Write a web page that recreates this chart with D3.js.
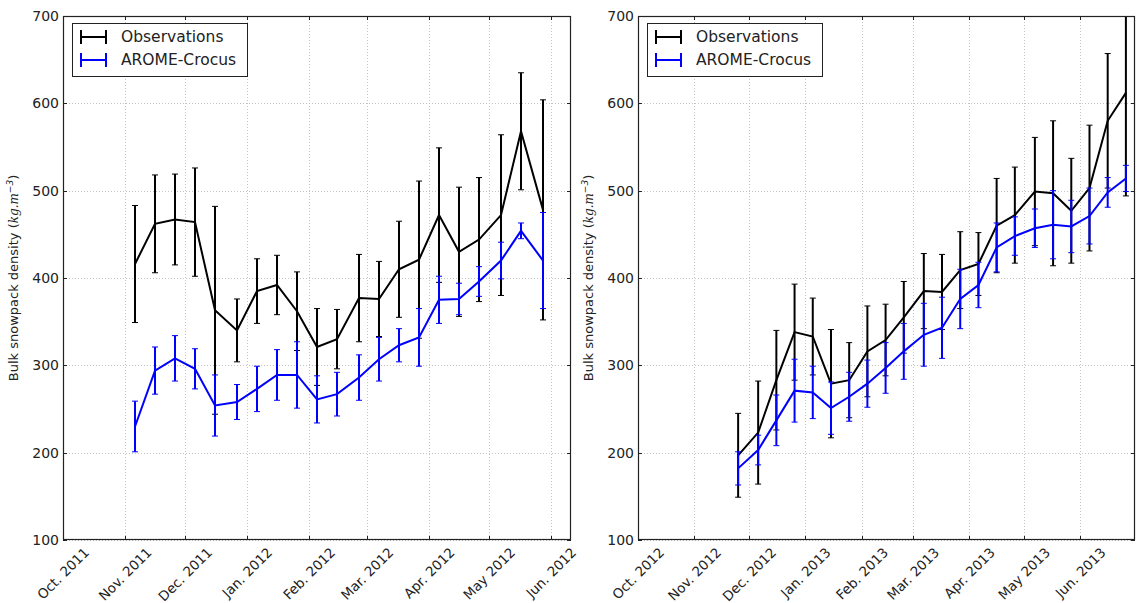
<!DOCTYPE html>
<html>
<head>
<meta charset="utf-8">
<script src="https://cdn.jsdelivr.net/npm/d3@7"></script>
<style>
  html, body { margin: 0; padding: 0; background: #fff; }
  svg { display: block; font-family: "DejaVu Sans", sans-serif; }
</style>
</head>
<body>
<svg id="chart" width="1137" height="603"></svg>
<script>
// ---------------- DATA ----------------
const seriesNames = ["Observations", "AROME-Crocus"];
const yTickValues = [100, 200, 300, 400, 500, 600, 700];

// Season 2011-2012
const dates1 = ["2011-11-06","2011-11-16","2011-11-26","2011-12-06","2011-12-16","2011-12-27",
  "2012-01-06","2012-01-16","2012-01-26","2012-02-05","2012-02-15","2012-02-26","2012-03-07",
  "2012-03-17","2012-03-27","2012-04-06","2012-04-16","2012-04-26","2012-05-07","2012-05-17","2012-05-28"];
const obs1 =      [416, 462, 467, 464, 363, 340, 385, 392, 362, 321, 330, 377, 376, 410, 421, 472, 430, 444, 472, 568, 478];
const obsErr1 =   [ 67,  56,  52,  62, 119,  36,  37,  34,  45,  44,  34,  50,  43,  55,  90,  77,  74,  71,  92,  67, 126];
const model1 =    [230, 294, 308, 296, 254, 258, 273, 289, 289, 261, 267, 286, 307, 323, 332, 375, 376, 396, 420, 454, 420];
const modelErr1 = [ 29,  27,  26,  23,  35,  20,  26,  29,  38,  27,  25,  26,  25,  19,  33,  27,  18,  17,  21,   9,  55];
const monthLabels1 = ["Oct. 2011","Nov. 2011","Dec. 2011","Jan. 2012","Feb. 2012","Mar. 2012","Apr. 2012","May 2012","Jun. 2012"];
const domain1 = ["2011-10-01", "2012-06-11"];

// Season 2012-2013
const dates2 = ["2012-11-25","2012-12-06","2012-12-16","2012-12-26","2013-01-05","2013-01-15",
  "2013-01-25","2013-02-04","2013-02-14","2013-02-24","2013-03-07","2013-03-17","2013-03-27",
  "2013-04-06","2013-04-16","2013-04-26","2013-05-07","2013-05-17","2013-05-27","2013-06-06",
  "2013-06-16","2013-06-26"];
const obs2 =      [197, 223, 283, 338, 333, 279, 283, 316, 329, 355, 385, 384, 409, 416, 460, 472, 499, 497, 477, 503, 580, 612];
const obsErr2 =   [ 48,  59,  57,  55,  44,  62,  43,  52,  41,  41,  43,  43,  44,  36,  54,  55,  62,  83,  60,  72,  77, 118];
const model2 =    [182, 203, 237, 271, 269, 251, 264, 279, 297, 316, 335, 343, 376, 392, 435, 448, 457, 461, 459, 471, 498, 514];
const modelErr2 = [ 19,  17,  29,  36,  30,  30,  28,  27,  29,  32,  36,  35,  34,  26,  28,  22,  22,  39,  30,  32,  17,  15];
const monthLabels2 = ["Oct. 2012","Nov. 2012","Dec. 2012","Jan. 2013","Feb. 2013","Mar. 2013","Apr. 2013","May 2013","Jun. 2013"];
const domain2 = ["2012-10-01", "2013-07-01"];

// ---------------- DRAWING ----------------
(function () {
const parse = d3.timeParse("%Y-%m-%d");
const svg = d3.select("#chart");
const colors = ["#000000", "#0000ff"];

const panels = [
  {left: 63, right: 571, dates: dates1, obs: obs1, obsErr: obsErr1, model: model1, modelErr: modelErr1,
   months: monthLabels1, domain: domain1, labelX: 18},
  {left: 638, right: 1135, dates: dates2, obs: obs2, obsErr: obsErr2, model: model2, modelErr: modelErr2,
   months: monthLabels2, domain: domain2, labelX: 593}
];
const pTop = 16, pBottom = 540;

panels.forEach((p, pi) => {
  const x = d3.scaleTime().domain(p.domain.map(parse)).range([p.left, p.right]);
  const y = d3.scaleLinear().domain([100, 700]).range([pBottom, pTop]);
  const g = svg.append("g");
  const clipId = "clip" + pi;
  svg.append("defs").append("clipPath").attr("id", clipId)
    .append("rect").attr("x", p.left).attr("y", pTop).attr("width", p.right - p.left).attr("height", pBottom - pTop);

  const monthTicks = d3.timeMonth.range(parse(p.domain[0]), x.domain()[1]).slice(0, p.months.length);

  // grid
  const grid = g.append("g").attr("stroke", "#c4c4c4").attr("stroke-width", 1).attr("stroke-dasharray", "1,2");
  grid.selectAll("line.v").data(monthTicks).join("line")
    .attr("x1", d => Math.round(x(d)) + 0.5).attr("x2", d => Math.round(x(d)) + 0.5)
    .attr("y1", pTop).attr("y2", pBottom);
  grid.selectAll("line.h").data(yTickValues).join("line")
    .attr("x1", p.left).attr("x2", p.right)
    .attr("y1", d => Math.round(y(d)) + 0.5).attr("y2", d => Math.round(y(d)) + 0.5);

  // series
  const series = [
    {vals: p.obs, errs: p.obsErr, color: colors[0]},
    {vals: p.model, errs: p.modelErr, color: colors[1]}
  ];
  const plot = g.append("g").attr("clip-path", `url(#${clipId})`);
  series.forEach(s => {
    const pts = p.dates.map((d, i) => ({t: parse(d), v: s.vals[i], e: s.errs[i]}));
    const sg = plot.append("g").attr("stroke", s.color).attr("fill", "none");
    sg.selectAll("line.bar").data(pts).join("line")
      .attr("x1", d => x(d.t)).attr("x2", d => x(d.t))
      .attr("y1", d => y(d.v - d.e)).attr("y2", d => y(d.v + d.e))
      .attr("stroke-width", 2);
    sg.selectAll("line.capt").data(pts).join("line")
      .attr("x1", d => x(d.t) - 3).attr("x2", d => x(d.t) + 3)
      .attr("y1", d => y(d.v + d.e)).attr("y2", d => y(d.v + d.e))
      .attr("stroke-width", 1);
    sg.selectAll("line.capb").data(pts).join("line")
      .attr("x1", d => x(d.t) - 3).attr("x2", d => x(d.t) + 3)
      .attr("y1", d => y(d.v - d.e)).attr("y2", d => y(d.v - d.e))
      .attr("stroke-width", 1);
    sg.append("path").datum(pts)
      .attr("d", d3.line().x(d => x(d.t)).y(d => y(d.v)))
      .attr("stroke-width", 2).attr("stroke-linejoin", "miter");
  });

  // frame
  g.append("rect").attr("x", p.left + 0.5).attr("y", pTop + 0.5)
    .attr("width", p.right - p.left - 1).attr("height", pBottom - pTop - 1)
    .attr("fill", "none").attr("stroke", "#222").attr("stroke-width", 1.2);

  // inward ticks on all sides
  const tk = g.append("g").attr("stroke", "#222").attr("stroke-width", 1);
  monthTicks.forEach(d => {
    const xx = Math.round(x(d)) + 0.5;
    tk.append("line").attr("x1", xx).attr("x2", xx).attr("y1", pBottom).attr("y2", pBottom - 4);
    tk.append("line").attr("x1", xx).attr("x2", xx).attr("y1", pTop).attr("y2", pTop + 4);
  });
  yTickValues.forEach(v => {
    const yy = Math.round(y(v)) + 0.5;
    tk.append("line").attr("x1", p.left).attr("x2", p.left + 4).attr("y1", yy).attr("y2", yy);
    tk.append("line").attr("x1", p.right).attr("x2", p.right - 4).attr("y1", yy).attr("y2", yy);
  });

  // y tick labels
  g.selectAll("text.yt").data(yTickValues).join("text")
    .attr("x", p.left - 4).attr("y", d => y(d))
    .attr("text-anchor", "end").attr("dominant-baseline", "central")
    .attr("font-size", 14).attr("fill", "#222").text(d => d);

  // x tick labels rotated 45deg, centered at tick
  monthTicks.forEach((d, i) => {
    const t = g.append("text").attr("font-size", 13.5).attr("fill", "#222")
      .attr("text-anchor", "middle").attr("dominant-baseline", "central").text(p.months[i]);
    const w = t.node().getComputedTextLength();
    const h = 13.5;
    const rotH = (w + h) * Math.SQRT1_2;
    t.attr("transform", `translate(${x(d)},${pBottom + 5 + rotH / 2}) rotate(-45)`);
  });

  // y axis label
  const yl = g.append("text")
    .attr("transform", `translate(${p.labelX},${(pTop + pBottom) / 2}) rotate(-90)`)
    .attr("text-anchor", "middle").attr("font-size", 13).attr("fill", "#222");
  yl.append("tspan").text("Bulk snowpack density (");
  yl.append("tspan").attr("font-style", "italic").attr("font-family", "DejaVu Serif").attr("font-size", 12).text("kg.m");
  yl.append("tspan").attr("font-style", "italic").attr("font-size", 9).attr("dy", -5).text("\u22123");
  yl.append("tspan").attr("dy", 5).text(")");

  // legend
  const lg = g.append("g");
  const lx = p.left + 9, ly = pTop + 7;
  lg.append("rect").attr("x", lx + 0.5).attr("y", ly + 0.5).attr("width", 175).attr("height", 53)
    .attr("fill", "#fff").attr("stroke", "#222").attr("stroke-width", 1);
  seriesNames.forEach((name, i) => {
    const cy = ly + 14 + i * 23;
    const sx0 = lx + 9, sx1 = lx + 34;
    lg.append("line").attr("x1", sx0).attr("x2", sx1).attr("y1", cy).attr("y2", cy)
      .attr("stroke", colors[i]).attr("stroke-width", 2);
    [sx0, sx1].forEach(sx => lg.append("line").attr("x1", sx).attr("x2", sx)
      .attr("y1", cy - 7).attr("y2", cy + 7).attr("stroke", colors[i]).attr("stroke-width", 2));
    lg.append("text").attr("x", lx + 49).attr("y", cy).attr("dominant-baseline", "central")
      .attr("font-size", 15.5).attr("fill", "#222").text(name);
  });
});
})();
</script>
</body>
</html>
